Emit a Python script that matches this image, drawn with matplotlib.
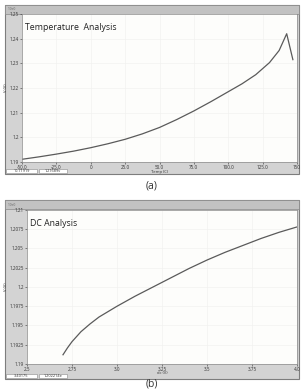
import matplotlib
matplotlib.use("Agg")
import matplotlib.pyplot as plt
from matplotlib.patches import Rectangle

plt.rcParams['font.family'] = ['Open Sans', 'DejaVu Sans']

# ---- data (a) Temperature analysis ----
temp_c = [-50, -37.5, -25, -12.5, 0, 12.5, 25, 37.5, 50, 62.5, 75, 87.5, 100,
          110, 120, 130, 137, 142.5, 147]
temp_v = [1.1911, 1.1921, 1.1932, 1.1944, 1.1958, 1.1974, 1.1992, 1.2014, 1.2040,
          1.2072, 1.2107, 1.2145, 1.2185, 1.2217, 1.2254, 1.2303, 1.2352, 1.2420, 1.2315]
temp_xticks = [-50, -25, 0, 25, 50, 75, 100, 125, 150]
temp_xlabels = ["-50.0", "-25.0", "0", "25.0", "50.0", "75.0", "100.0", "125.0", "150"]
temp_yticks = [1.19, 1.20, 1.21, 1.22, 1.23, 1.24, 1.25]
temp_ylabels = ["1.19", "1.2", "1.21", "1.22", "1.23", "1.24", "1.25"]

# ---- data (b) DC analysis ----
dc_v = [2.70, 2.725, 2.75, 2.80, 2.85, 2.90, 3.0, 3.1, 3.2, 3.3, 3.4, 3.5, 3.6, 3.7,
        3.8, 3.9, 4.0]
dc_out = [1.1912, 1.1921, 1.1929, 1.1942, 1.1952, 1.1961, 1.1975, 1.1988, 1.2000,
          1.2012, 1.2024, 1.2035, 1.2045, 1.2054, 1.2063, 1.2071, 1.2078]
dc_xticks = [2.5, 2.75, 3.0, 3.25, 3.5, 3.75, 4.0]
dc_xlabels = ["2.5", "2.75", "3.0", "3.25", "3.5", "3.75", "4.0"]
dc_yticks = [1.19, 1.1925, 1.195, 1.1975, 1.2, 1.2025, 1.205, 1.2075, 1.21]
dc_ylabels = ["1.19", "1.1925", "1.195", "1.1975", "1.2", "1.2025", "1.205", "1.2075", "1.21"]

W, H = 303, 390
fig = plt.figure(figsize=(W / 100, H / 100), dpi=100)
fig.patch.set_facecolor("white")


def rect(x0, y0, x1, y1, fc, ec="none", lw=0.0, z=0):
    r = Rectangle((x0 / W, 1 - y1 / H), (x1 - x0) / W, (y1 - y0) / H,
                  transform=fig.transFigure, facecolor=fc, edgecolor=ec,
                  linewidth=lw, zorder=z)
    fig.add_artist(r)


def ftext(x, y, s, **kw):
    fig.text(x / W, 1 - y / H, s, **kw)


def panel(frame, axbox, title, x, y, xt, xl, yt, yl, xlim, ylim, xlabel, status, caption, caption_y):
    fx0, fy0, fx1, fy1 = frame
    rect(fx0, fy0, fx1, fy1, "#d3d3d3", "#7d7d7d", 0.8)
    rect(fx0, fy0, fx1, fy0 + 9, "#c2c2c2", "#8a8a8a", 0.5)
    ftext(fx0 + 3, fy0 + 4.5, "1.0e0", fontsize=2.3, color="#666666", va="center")
    ax0, ay0, ax1, ay1 = axbox
    ax = fig.add_axes([ax0 / W, 1 - ay1 / H, (ax1 - ax0) / W, (ay1 - ay0) / H])
    ax.set_facecolor("#fdfdfb")
    ax.plot(x, y, color="#5a5a5a", linewidth=0.9)
    ax.set_xlim(*xlim)
    ax.set_ylim(*ylim)
    ax.set_xticks(xt)
    ax.set_xticklabels(xl)
    ax.set_yticks(yt)
    ax.set_yticklabels(yl)
    ax.tick_params(labelsize=3.3, length=1.5, width=0.4, pad=0.8, colors="#333333")
    for s in ax.spines.values():
        s.set_color("#8a8a8a")
        s.set_linewidth(0.5)
    ax.grid(True, color="#f0f0ee", linewidth=0.4)
    ax.text(0.012, 0.94, title, transform=ax.transAxes, fontsize=6.3,
            color="#222222", va="top", ha="left")
    ax.set_xlabel(xlabel, fontsize=3.0, labelpad=-0.5, color="#333333")
    ax.set_ylabel("V (V)", fontsize=3.0, labelpad=1, color="#333333")
    # status bar
    sx, sy = fx0 + 1, fy1 - 5
    rect(sx, sy, sx + 31, sy + 4, "white", "#888888", 0.4, z=3)
    rect(sx + 33, sy, sx + 61, sy + 4, "white", "#888888", 0.4, z=3)
    ftext(sx + 15.5, sy + 2, status[0], fontsize=2.8, ha="center", va="center",
          color="#333333", zorder=4)
    ftext(sx + 47, sy + 2, status[1], fontsize=2.8, ha="center", va="center",
          color="#333333", zorder=4)
    ftext(152, caption_y, caption, fontsize=7.5, ha="center", va="center", color="#333333")
    return ax


panel((5, 5, 299, 174), (22, 14, 297, 162), "Temperature  Analysis",
      temp_c, temp_v, temp_xticks, temp_xlabels, temp_yticks, temp_ylabels,
      (-50, 150), (1.19, 1.25), "Temp (C)", ("10.71919", "1.21689v"), "(a)", 186)

panel((5, 200, 299, 379), (27, 210, 297, 364), "DC Analysis",
      dc_v, dc_out, dc_xticks, dc_xlabels, dc_yticks, dc_ylabels,
      (2.5, 4.0), (1.19, 1.21), "dc (V)", ("3.40175", "1.202214e"), "(b)", 384)

fig.savefig("out.png", dpi=100, facecolor="white")
